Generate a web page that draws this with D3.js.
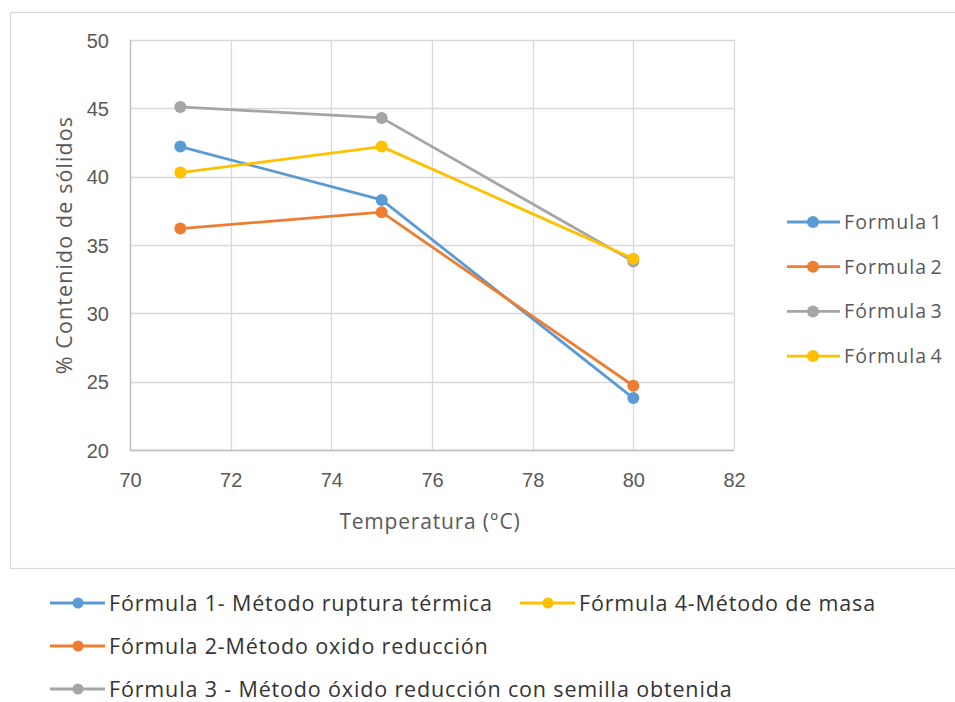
<!DOCTYPE html>
<html>
<head>
<meta charset="utf-8">
<script src="https://cdn.jsdelivr.net/npm/d3@7"></script>
<style>
  html, body { margin: 0; padding: 0; background: #fff; }
  svg { display: block; font-family: "Open Sans", "Noto Sans", sans-serif; }
</style>
</head>
<body>
<svg id="chart" width="955" height="702"></svg>
<script>
// Temperatures (°C) at which solids content was measured
const temperatures = [71, 75, 80];

// % solids content per formula
const formula1 = [42.2, 38.3, 23.8];
const formula2 = [36.2, 37.4, 24.7];
const formula3 = [45.1, 44.3, 33.8];
const formula4 = [40.3, 42.2, 34.0];

const seriesNames = ["Formula 1", "Formula 2", "Fórmula 3", "Fórmula 4"];
const seriesLongNames = [
  "Fórmula 1- Método ruptura térmica",
  "Fórmula 2-Método oxido reducción",
  "Fórmula 3 - Método óxido reducción con semilla obtenida",
  "Fórmula 4-Método de masa"
];
const seriesColors = ["#5b9bd5", "#ed7d31", "#a5a5a5", "#ffc000"];

const xTicks = [70, 72, 74, 76, 78, 80, 82];
const yTicks = [20, 25, 30, 35, 40, 45, 50];

const series = [formula1, formula2, formula3, formula4].map((vals, i) => ({
  name: seriesNames[i],
  longName: seriesLongNames[i],
  color: seriesColors[i],
  points: temperatures.map((t, j) => ({ x: t, y: vals[j] }))
}));

const svg = d3.select("#chart");

// Chart frame
svg.append("rect")
  .attr("x", 10.5).attr("y", 12.5)
  .attr("width", 960).attr("height", 556)
  .attr("fill", "#fff").attr("stroke", "#d9d9d9").attr("stroke-width", 1.2);

const plot = { left: 130, top: 40, right: 734, bottom: 450 };

const x = d3.scaleLinear().domain([70, 82]).range([plot.left, plot.right]);
const y = d3.scaleLinear().domain([20, 50]).range([plot.bottom, plot.top]);

// Gridlines
const grid = svg.append("g");
grid.selectAll("line.h").data(yTicks).join("line")
  .attr("x1", plot.left).attr("x2", plot.right)
  .attr("y1", d => Math.round(y(d)) + 0.5).attr("y2", d => Math.round(y(d)) + 0.5)
  .attr("stroke", "#d9d9d9").attr("stroke-width", 1.3);
grid.selectAll("line.v").data(xTicks).join("line")
  .attr("y1", plot.top).attr("y2", plot.bottom)
  .attr("x1", d => Math.round(x(d)) + 0.5).attr("x2", d => Math.round(x(d)) + 0.5)
  .attr("stroke", "#d9d9d9").attr("stroke-width", 1.3);

// Axis baselines, slightly darker than the grid
svg.append("line")
  .attr("x1", plot.left).attr("x2", plot.right)
  .attr("y1", plot.bottom + 0.5).attr("y2", plot.bottom + 0.5)
  .attr("stroke", "#bfbfbf").attr("stroke-width", 1.3);
svg.append("line")
  .attr("x1", plot.left + 0.5).attr("x2", plot.left + 0.5)
  .attr("y1", plot.top).attr("y2", plot.bottom)
  .attr("stroke", "#bfbfbf").attr("stroke-width", 1.3);

const yAxis = d3.axisLeft(y).tickValues(yTicks).tickSize(0).tickPadding(0).tickFormat(d3.format("d"));
svg.append("g")
  .attr("transform", `translate(${plot.left - 21},0)`)
  .call(yAxis)
  .call(g => g.select(".domain").remove())
  .selectAll("text")
  .attr("fill", "#595959").attr("font-size", 20).attr("text-anchor", "end").attr("dy", "0.36em");

const xAxis = d3.axisBottom(x).tickValues(xTicks).tickSize(0).tickPadding(0).tickFormat(d3.format("d"));
svg.append("g")
  .attr("transform", `translate(0,${plot.bottom})`)
  .call(xAxis)
  .call(g => g.select(".domain").remove())
  .selectAll("text")
  .attr("fill", "#595959").attr("font-size", 20).attr("y", 37).attr("dy", 0);

// Axis titles
svg.append("text")
  .attr("x", 430).attr("y", 521)
  .attr("text-anchor", "middle").attr("dy", "0.36em")
  .attr("fill", "#595959").attr("font-size", 21).attr("letter-spacing", 0.8)
  .text("Temperatura (°C)");
svg.append("text")
  .attr("transform", `translate(64,245) rotate(-90)`)
  .attr("text-anchor", "middle").attr("dy", "0.36em")
  .attr("fill", "#595959").attr("font-size", 21.5).attr("letter-spacing", 1.1)
  .text("% Contenido de sólidos");

// Lines and markers
const line = d3.line().x(d => x(d.x)).y(d => y(d.y));
series.forEach(s => {
  svg.append("path")
    .datum(s.points)
    .attr("d", line)
    .attr("fill", "none")
    .attr("stroke", s.color)
    .attr("stroke-width", 2.8)
    .attr("stroke-linejoin", "round");
  svg.append("g").selectAll("circle").data(s.points).join("circle")
    .attr("cx", d => x(d.x)).attr("cy", d => y(d.y))
    .attr("r", 6).attr("fill", s.color);
});

// Right-side legend
const legR = svg.append("g");
series.forEach((s, i) => {
  const yy = 222 + i * 44.7;
  const g = legR.append("g").attr("transform", `translate(0,${yy})`);
  g.append("line").attr("x1", 787).attr("x2", 840).attr("y1", 0).attr("y2", 0)
    .attr("stroke", s.color).attr("stroke-width", 2.8);
  g.append("circle").attr("cx", 813).attr("cy", 0).attr("r", 6).attr("fill", s.color);
  g.append("text").attr("x", 844).attr("y", 0).attr("dy", "0.36em")
    .attr("fill", "#595959").attr("font-size", 19.5)
    .attr("letter-spacing", 1.1).attr("word-spacing", -3)
    .text(s.name);
});

// Bottom legend (outside the chart frame)
const legB = svg.append("g");
const bottomPos = [
  { i: 0, lx: 50, ty: 603 },
  { i: 3, lx: 520, ty: 603 },
  { i: 1, lx: 50, ty: 646 },
  { i: 2, lx: 50, ty: 689 }
];
bottomPos.forEach(p => {
  const s = series[p.i];
  const g = legB.append("g").attr("transform", `translate(${p.lx},${p.ty})`);
  g.append("line").attr("x1", 0).attr("x2", 55).attr("y1", 0).attr("y2", 0)
    .attr("stroke", s.color).attr("stroke-width", 2.8);
  g.append("circle").attr("cx", 28).attr("cy", 0).attr("r", 5.5).attr("fill", s.color);
  g.append("text").attr("x", 59).attr("y", 0).attr("dy", "0.36em")
    .attr("fill", "#333333").attr("font-size", 21.5).attr("letter-spacing", 0.85)
    .text(s.longName);
});
</script>
</body>
</html>
